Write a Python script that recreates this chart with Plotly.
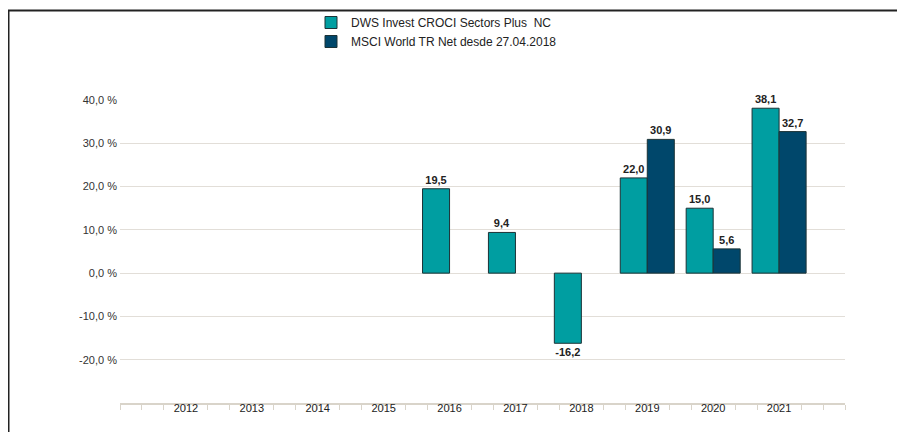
import plotly.graph_objects as go

years = [2012, 2013, 2014, 2015, 2016, 2017, 2018, 2019, 2020, 2021]
dws = [None, None, None, None, 19.5, 9.4, -16.2, 22.0, 15.0, 38.1]
msci = [None, None, None, None, None, None, None, 30.9, 5.6, 32.7]
tick_labels = [str(y) for y in years]
y_ticks = [-20, -10, 0, 10, 20, 30, 40]
y_tick_labels = [f"{v:.1f}".replace(".", ",") + " %" for v in y_ticks]

OFF = 8  # page body margin
W, H = 905 - OFF, 432 - OFF
L, R, T, B = 120 - OFF, W - (845 - OFF), 100 - OFF, H - (403 - OFF)
pw, ph = W - L - R, H - T - B

def px_x(px):
    return (px - L) / pw

def px_y(py):
    return (H - B - py) / ph

fig = go.Figure()
fig.add_bar(x=years, y=dws, name="DWS Invest CROCI Sectors Plus  NC",
            marker=dict(color="#009EA1", line=dict(color="#1b3236", width=1)),
            texttemplate="<b>%{y:.1f}</b>", textposition="outside",
            textfont=dict(size=11, color="#222222"), cliponaxis=False,
            constraintext="none")
fig.add_bar(x=years, y=msci, name="MSCI World TR Net desde 27.04.2018",
            marker=dict(color="#00476B", line=dict(color="#1b3236", width=1)),
            texttemplate="<b>%{y:.1f}</b>", textposition="outside",
            textfont=dict(size=11, color="#222222"), cliponaxis=False,
            constraintext="none")

fig.update_layout(
    width=W, height=H,
    margin=dict(l=L, r=R, t=T, b=B, autoexpand=False),
    paper_bgcolor="white", plot_bgcolor="white",
    separators=",.",
    barmode="group", bargap=0.18, bargroupgap=0,
    font=dict(family="Liberation Sans, Arial, sans-serif", size=11, color="#333333"),
    showlegend=True,
    legend=dict(x=px_x(303), y=px_y(0),
                xanchor="left", yanchor="top", font=dict(size=12, color="#222222"),
                bgcolor="rgba(0,0,0,0)", itemwidth=30, tracegroupgap=0),
)
fig.update_xaxes(
    range=[2011, 2022], tickvals=years, ticktext=tick_labels, tickangle=0,
    showgrid=False, zeroline=False, showline=True, linecolor="#d9d4ca", linewidth=2,
    ticks="", ticklabelstandoff=-6, automargin=False,
    minor=dict(ticks="outside", tick0=2011, dtick=1 / 3, ticklen=5, tickcolor="#d9d4ca",
               tickwidth=1, showgrid=False),
    tickfont=dict(size=11, color="#222222"), fixedrange=True,
)
fig.update_yaxes(
    range=[-30, 40], tickvals=y_ticks, ticktext=y_tick_labels,
    showgrid=True, gridcolor="#e2ded8", gridwidth=1,
    zeroline=True, zerolinecolor="#e2ded8", zerolinewidth=1,
    showline=False, ticks="", ticklabelstandoff=2, automargin=False,
    tickfont=dict(size=11, color="#333333"),
)

# outer frame lines (top and left)
fig.add_shape(type="line", xref="paper", yref="paper",
              x0=px_x(0), x1=px_x(W + 5), y0=px_y(2.5), y1=px_y(2.5),
              line=dict(color="#222222", width=2))
fig.add_shape(type="line", xref="paper", yref="paper",
              x0=px_x(0.5), x1=px_x(0.5), y0=px_y(2.5), y1=px_y(H + 5),
              line=dict(color="#222222", width=2))

fig.write_html("out.html", config={"displayModeBar": False})
